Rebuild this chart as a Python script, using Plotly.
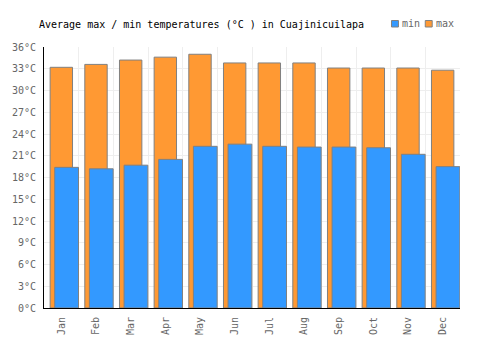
import plotly.graph_objects as go

months = ["Jan", "Feb", "Mar", "Apr", "May", "Jun", "Jul", "Aug", "Sep", "Oct", "Nov", "Dec"]
max_temps = [33.2, 33.6, 34.2, 34.6, 35.0, 33.8, 33.8, 33.8, 33.1, 33.1, 33.1, 32.8]
min_temps = [19.4, 19.2, 19.7, 20.5, 22.3, 22.6, 22.3, 22.2, 22.2, 22.1, 21.2, 19.5]
y_ticks = list(range(0, 37, 3))
y_tick_labels = [f"{v}°C" for v in y_ticks]

FONT = "DejaVu Sans Mono"
ORANGE = "#FF9933"
BLUE = "#3399FF"
EDGE = "#808080"
LABEL = "#666666"

fig = go.Figure()
fig.add_trace(go.Bar(
    x=months, y=max_temps, name="max",
    marker=dict(color=ORANGE, line=dict(color=EDGE, width=1)),
    width=0.646, offset=-0.323, showlegend=False,
))
fig.add_trace(go.Bar(
    x=months, y=min_temps, name="min",
    marker=dict(color=BLUE, line=dict(color=EDGE, width=1)),
    width=0.686, offset=-0.191, showlegend=False,
))

fig.update_layout(
    width=500, height=350,
    margin=dict(l=41, r=40, t=47, b=42),
    paper_bgcolor="white", plot_bgcolor="white",
    barmode="overlay",
    font=dict(family=FONT, size=10, color=LABEL),
    title=dict(
        text="Average max / min temperatures (°C ) in Cuajinicuilapa",
        font=dict(family=FONT, size=10, color="#000000"),
        x=39 / 500, xanchor="left", xref="container",
        y=1 - 24 / 350, yanchor="middle",
    ),
    xaxis=dict(
        type="category", range=[-0.5, 11.5],
        tickson="boundaries", showgrid=True, gridcolor="#eeeeee", gridwidth=1,
        showline=True, linecolor="#000000", linewidth=1,
        ticks="", tickangle=-90, ticklabelstandoff=4,
        tickfont=dict(family=FONT, size=10, color=LABEL),
    ),
    yaxis=dict(
        range=[0, 36], tickvals=y_ticks, ticktext=y_tick_labels,
        showgrid=True, gridcolor="#eeeeee", gridwidth=1,
        showline=True, linecolor="#000000", linewidth=1,
        zeroline=False, ticks="", ticklabelstandoff=5,
        tickfont=dict(family=FONT, size=10, color=LABEL),
    ),
)

# custom legend (top right)
legend_items = [("min", BLUE, 391), ("max", ORANGE, 425)]
for label, color, px in legend_items:
    fig.add_shape(
        type="rect", xref="paper", yref="paper",
        x0=(px - 41) / 419, x1=(px + 7 - 41) / 419,
        y0=(308 - 27) / 261, y1=(308 - 20.5) / 261,
        fillcolor=color, line=dict(color=EDGE, width=1),
    )
    fig.add_annotation(
        text=label, xref="paper", yref="paper",
        x=(px + 9 - 41) / 419, y=(308 - 24) / 261,
        xanchor="left", yanchor="middle", showarrow=False,
        font=dict(family=FONT, size=10, color=LABEL),
    )

fig.write_html("out.html")
